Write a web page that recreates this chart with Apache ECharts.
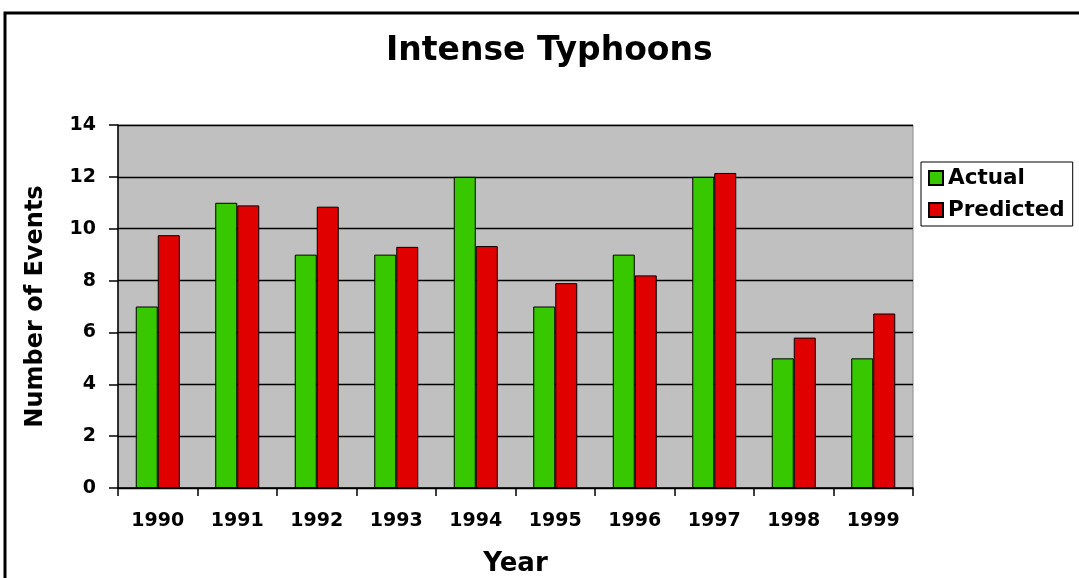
<!DOCTYPE html>
<html>
<head>
<meta charset="utf-8">
<script src="https://cdn.jsdelivr.net/npm/echarts@6/dist/echarts.min.js"></script>
<style>
  html, body { margin: 0; padding: 0; background: #fff; }
  #chart { width: 1079px; height: 578px; }
</style>
</head>
<body>
<div id="chart"></div>
<script>
// data
var years = ['1990', '1991', '1992', '1993', '1994', '1995', '1996', '1997', '1998', '1999'];
var actual = [7, 11, 9, 9, 12, 7, 9, 12, 5, 5];
var predicted = [9.75, 10.9, 10.85, 9.3, 9.33, 7.9, 8.2, 12.15, 5.8, 6.73];

var font = 'DejaVu Sans';
var myChart = echarts.init(document.getElementById('chart'));
myChart.setOption({
    animation: false,
    backgroundColor: '#fff',
    title: {
        text: 'Intense Typhoons',
        left: 381,
        top: 30,
        textStyle: { fontFamily: font, fontWeight: 'bold', fontSize: 33, color: '#000' }
    },
    legend: {
        orient: 'vertical',
        left: 921,
        top: 162,
        padding: [5, 8, 5, 7],
        itemGap: 10,
        itemWidth: 14,
        itemHeight: 14,
        borderColor: '#000',
        borderWidth: 1,
        icon: 'rect',
        data: ['Actual', 'Predicted'],
        textStyle: { fontFamily: font, fontWeight: 'bold', fontSize: 21.5, lineHeight: 21, color: '#000' }
    },
    // outer frame
    graphic: [{
        type: 'rect',
        shape: { x: 5, y: 13, width: 1100, height: 620 },
        style: { fill: 'none', stroke: '#000', lineWidth: 3 },
        silent: true
    }],
    grid: {
        left: 118,
        top: 125,
        width: 795,
        height: 363,
        outerBoundsMode: 'none',
        show: true,
        backgroundColor: '#c0c0c0',
        borderColor: '#8a8a8a',
        borderWidth: 1
    },
    xAxis: {
        type: 'category',
        data: years,
        name: 'Year',
        nameLocation: 'middle',
        nameGap: 63,
        nameTextStyle: { fontFamily: font, fontWeight: 'bold', fontSize: 26, color: '#000' },
        axisLine: { lineStyle: { color: '#000', width: 1.5 } },
        axisTick: { show: true, length: 8, lineStyle: { color: '#000', width: 1.5 } },
        axisLabel: { margin: 24, fontFamily: font, fontWeight: 'bold', fontSize: 19, color: '#000' }
    },
    yAxis: {
        type: 'value',
        min: 0,
        max: 14,
        interval: 2,
        name: 'Number of Events',
        nameLocation: 'middle',
        nameRotate: 90,
        nameGap: 70,
        nameTextStyle: { fontFamily: font, fontWeight: 'bold', fontSize: 24, color: '#000' },
        axisLine: { show: true, lineStyle: { color: '#000', width: 1.5 } },
        axisTick: { show: true, length: 9, lineStyle: { color: '#000', width: 1.5 } },
        axisLabel: { margin: 22, fontFamily: font, fontWeight: 'bold', fontSize: 19, color: '#000' },
        splitLine: { lineStyle: { color: '#000', width: 1.3 } }
    },
    series: [
        {
            name: 'Actual',
            type: 'bar',
            data: actual,
            barWidth: 22,
            barGap: '0%',
            itemStyle: { color: '#38c800', borderColor: '#000', borderWidth: 1 }
        },
        {
            name: 'Predicted',
            type: 'bar',
            data: predicted,
            barWidth: 22,
            itemStyle: { color: '#e00000', borderColor: '#000', borderWidth: 1 }
        }
    ]
});
</script>
</body>
</html>
